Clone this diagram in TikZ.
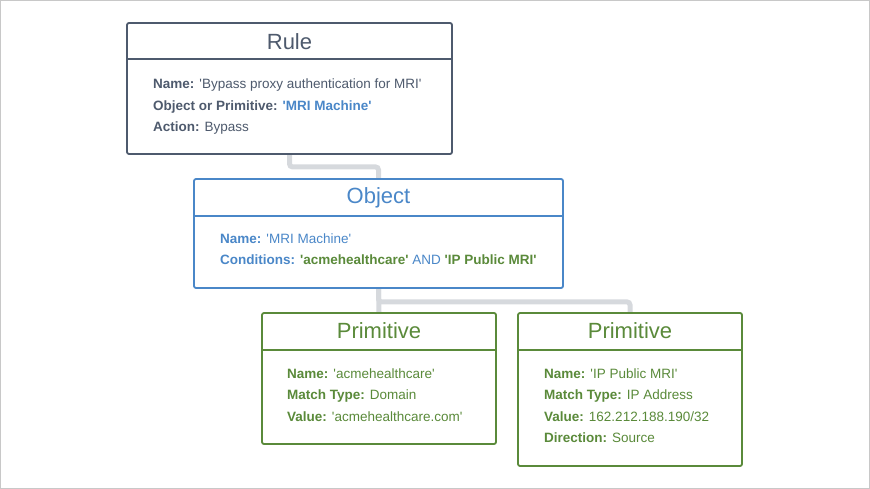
\documentclass[tikz,border=0pt]{standalone}
\usepackage{fontspec}
\setmainfont{Liberation Sans}[Ligatures=TeXOff]
\usetikzlibrary{backgrounds}
\definecolor{rulec}{HTML}{4E5A6D}
\definecolor{objc}{HTML}{4A87C8}
\definecolor{primc}{HTML}{5A8A3A}
\definecolor{connc}{HTML}{D6D9DD}
\definecolor{framec}{HTML}{C8C8C8}
\tikzset{
  box/.style={draw=#1, line width=1.8pt, fill=white, rounded corners=2pt, inner sep=0pt},
  divline/.style={draw=#1, line width=1.8pt},
  ttl/.style={text=#1, anchor=base, inner sep=0pt, font=\fontsize{22}{26}\selectfont},
  txt/.style={text=#1, anchor=base west, inner sep=0pt, font=\fontsize{13.5}{16}\selectfont},
  conn/.style={draw=connc, line width=5pt, rounded corners=3pt},
}
\begin{document}
\begin{tikzpicture}[x=1pt,y=-1pt]
\useasboundingbox (0,0) rectangle (870,489);
\draw[framec, line width=1pt] (0.5,0.5) rectangle (869.5,488.5);
% boxes
\node[box=rulec, minimum width=325pt, minimum height=131pt] (rule) at (289.5,88.5) {};
\node[box=objc, minimum width=369pt, minimum height=109pt] (object) at (378.5,233.5) {};
\node[box=primc, minimum width=234pt, minimum height=131pt] (prim1) at (379,378.5) {};
\node[box=primc, minimum width=224pt, minimum height=153pt] (prim2) at (630,389.5) {};
% connectors
\begin{scope}[on background layer]
\draw[conn] (rule.south) -- ++(0,12) -| (object.north);
\draw[conn] (object.south) -- (prim1.north);
\draw[conn] (object.south) -- ++(0,13) -| (prim2.north);
\end{scope}
% dividers
\draw[divline=rulec] (rule.west |- 0,59) -- (rule.east |- 0,59);
\draw[divline=objc] (object.west |- 0,216) -- (object.east |- 0,216);
\draw[divline=primc] (prim1.west |- 0,350) -- (prim1.east |- 0,350);
\draw[divline=primc] (prim2.west |- 0,350) -- (prim2.east |- 0,350);
% titles
\node[ttl=rulec] (ruleT) at (289.5,49.5) {Rule};
\node[ttl=objc] (objT) at (378.5,204) {Object};
\node[ttl=primc] (p1T) at (379,338.5) {Primitive};
\node[ttl=primc] (p2T) at (630,338.5) {Primitive};
% rule text
\node[txt=rulec] (r1) at (153,89) {\textbf{Name:} 'Bypass proxy authentication for MRI'};
\node[txt=rulec] (r2) at (153,110.5) {\textbf{Object or Primitive:} \textcolor{objc}{\textbf{'MRI Machine'}}};
\node[txt=rulec] (r3) at (153,132) {\textbf{Action:} Bypass};
% object text
\node[txt=objc] (o1) at (220,243.5) {\textbf{Name:} 'MRI Machine'};
\node[txt=objc] (o2) at (220,265) {\textbf{Conditions:} \textcolor{primc}{\textbf{'acmehealthcare'}} AND \textcolor{primc}{\textbf{'IP Public MRI'}}};
% primitive 1 text
\node[txt=primc] (a1) at (287,378) {\textbf{Name:} 'acmehealthcare'};
\node[txt=primc] (a2) at (287,399.5) {\textbf{Match Type:} Domain};
\node[txt=primc] (a3) at (287,421) {\textbf{Value:} 'acmehealthcare.com'};
% primitive 2 text
\node[txt=primc] (b1) at (544,378) {\textbf{Name:} 'IP Public MRI'};
\node[txt=primc] (b2) at (544,399.5) {\textbf{Match Type:} IP Address};
\node[txt=primc] (b3) at (544,421) {\textbf{Value:} 162.212.188.190/32};
\node[txt=primc] (b4) at (544,442.5) {\textbf{Direction:} Source};
\end{tikzpicture}
\end{document}
